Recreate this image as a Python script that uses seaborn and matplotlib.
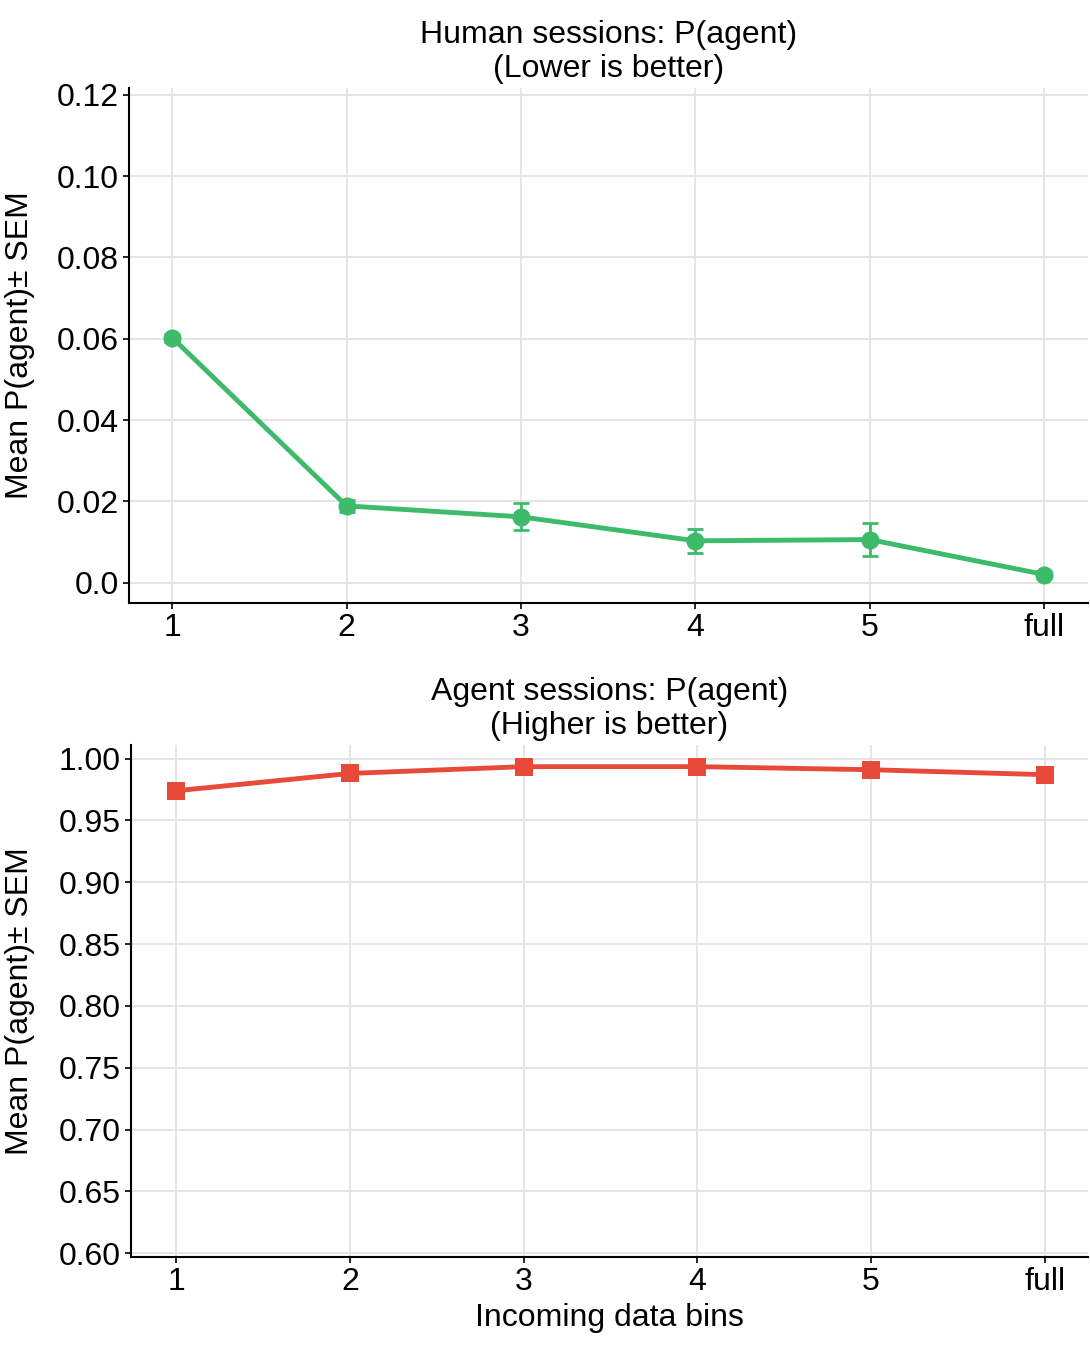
import matplotlib
matplotlib.use("Agg")
import matplotlib.pyplot as plt
import seaborn as sns
import pandas as pd

bins = ["1", "2", "3", "4", "5", "full"]
human_mean = [0.0603, 0.0189, 0.0162, 0.0103, 0.0106, 0.0020]
human_sem = [0.0010, 0.0015, 0.0033, 0.0030, 0.0040, 0.0008]
agent_mean = [0.974, 0.988, 0.9935, 0.9935, 0.991, 0.987]
agent_sem = [0.003, 0.002, 0.0015, 0.0015, 0.003, 0.002]

sns.set_style("ticks")
plt.rcParams['font.family'] = ['Liberation Sans', 'DejaVu Sans']
plt.rcParams['font.size'] = 23
plt.rcParams['text.color'] = 'black'
plt.rcParams['axes.labelcolor'] = 'black'
plt.rcParams['xtick.color'] = 'black'
plt.rcParams['ytick.color'] = 'black'
plt.rcParams['axes.edgecolor'] = 'black'

fig = plt.figure(figsize=(10.9, 13.57), dpi=100)
ax1 = fig.add_axes([129/1090, 1 - 603/1357, (1088-129)/1090, (603-88)/1357])
ax2 = fig.add_axes([131/1090, 1 - 1257/1357, (1088-131)/1090, (1257-745)/1357])

panels = [
    (ax1, human_mean, human_sem, "#3dba6a", "o", "Human sessions: P(agent)\n(Lower is better)",
     (-0.005, 0.1217), [0.0, 0.02, 0.04, 0.06, 0.08, 0.10, 0.12], ["0.0", "0.02", "0.04", "0.06", "0.08", "0.10", "0.12"], (-0.247, 5.25)),
    (ax2, agent_mean, agent_sem, "#e84a3a", "s", "Agent sessions: P(agent)\n(Higher is better)",
     (0.597, 1.011), [0.60, 0.65, 0.70, 0.75, 0.80, 0.85, 0.90, 0.95, 1.00], None, (-0.26, 5.25)),
]

for ax, mean, sem, color, marker, title, ylim, yt, ytl, xlim in panels:
    df = pd.DataFrame({"bin": range(len(bins)), "mean": mean})
    sns.lineplot(data=df, x="bin", y="mean", ax=ax, color=color, linewidth=3.5,
                 marker=marker, markersize=13, markeredgewidth=0, zorder=3)
    ax.errorbar(df["bin"], df["mean"], yerr=sem, fmt="none", ecolor=color,
                elinewidth=2, capsize=6, capthick=2, zorder=3)
    ax.set_xticks(range(len(bins)))
    ax.set_xticklabels(bins)
    ax.set_xlim(*xlim)
    ax.set_ylim(*ylim)
    ax.set_yticks(yt)
    if ytl:
        ax.set_yticklabels(ytl)
    else:
        ax.set_yticklabels([f"{v:.2f}" for v in yt])
    ax.grid(True, color="#e3e3e3", linewidth=1.3)
    ax.set_axisbelow(True)
    ax.set_title(title, fontsize=23, pad=8, linespacing=1.15)
    ax.set_ylabel("Mean P(agent)\u00b1 SEM", fontsize=23)
    ax.set_xlabel("")
    ax.tick_params(labelsize=23, length=4, width=1.2)
    sns.despine(ax=ax)
    for s in ax.spines.values():
        s.set_linewidth(1.5)

ax2.set_xlabel("Incoming data bins", fontsize=23)
ax1.yaxis.set_label_coords(-0.098, 0.5)
ax2.yaxis.set_label_coords(-0.1, 0.5)

fig.savefig("out.png", dpi=100)
